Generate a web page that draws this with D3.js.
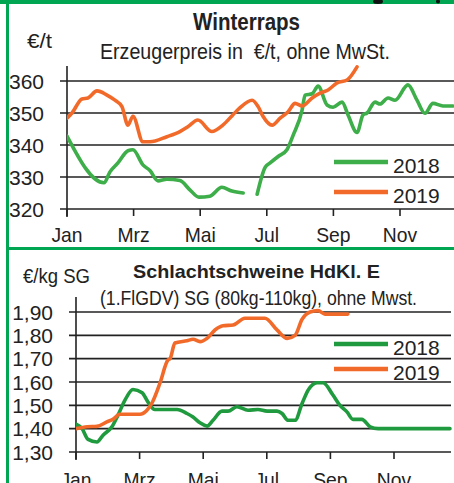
<!DOCTYPE html>
<html><head><meta charset="utf-8">
<script src="https://cdn.jsdelivr.net/npm/d3@7"></script>
<style>
body{margin:0;background:#fff;}
svg{display:block;}
text{font-family:"Liberation Sans",Arial,sans-serif;fill:#222;}
</style></head><body>
<svg id="c" width="454" height="483"></svg>
<script>
// ---------- data ----------
const monthLabels = ["Jan","Mrz","Mai","Jul","Sep","Nov"];
const monthTicks = [0,2,4,6,8,10];

// Winterraps (€/t); t = months since 1 Jan
const raps2018a_t = [0,1.11,1.29,1.53,1.83,1.98,2.28,2.49,2.73,3.0,3.39,3.69,3.96,4.29,4.65,4.95,5.29];
const raps2018a_v = [342.8,328.2,331.6,334.4,338.2,338.5,333.8,332,328.8,329.3,328.9,326,323.7,324,326.8,325.6,325];
const raps2018b_t = [5.71,5.95,6.1,6.34,6.61,6.79,7.06,7.15,7.36,7.54,7.81,7.99,8.26,8.44,8.71,8.89,9.01,9.25,9.4,9.64,9.85,10.24,10.51,10.75,10.99,11.29,11.59];
const raps2018b_v = [324.6,333,334.4,336.4,338.6,343,350.9,355.6,356,358.4,352.5,351.8,353.4,349.4,343.9,349.4,350,353.4,352.8,354.7,354,358.8,354,349.9,353,352.2,352.2];
const raps2019_t = [0,0.15,0.45,0.63,0.9,1.2,1.44,1.65,1.83,1.98,2.28,2.49,3.0,3.39,3.63,3.93,4.35,4.68,4.98,5.19,5.56,5.74,5.89,6.16,6.4,6.64,6.85,7.06,7.36,7.6,7.84,8.11,8.41,8.71];
const raps2019_v = [348.4,350,354.4,354.7,356.9,355.6,354,352,346.2,349,341,341,342.6,344.2,345.7,347.8,344.2,346.2,349.4,351.6,354,352,348.9,346.2,348.4,350.4,353,352.2,354.7,356.2,357.2,359.4,360.3,364.4];
const rapsYTicks = [320,330,340,350,360];

// Schlachtschweine (€/kg SG)
const pig2018_t = [0,0.19,0.38,0.66,0.85,1.13,1.32,1.54,1.79,2.08,2.26,2.48,3.18,3.49,3.68,3.9,4.12,4.31,4.59,4.78,5.06,5.41,5.72,6.01,6.32,6.48,6.67,6.89,7.11,7.3,7.58,7.77,8.08,8.3,8.52,8.71,8.99,9.25,9.5,11.76];
const pig2018_v = [1.419,1.40,1.354,1.343,1.372,1.408,1.458,1.522,1.568,1.554,1.515,1.482,1.482,1.465,1.45,1.425,1.411,1.436,1.475,1.475,1.494,1.479,1.482,1.475,1.475,1.465,1.436,1.436,1.508,1.565,1.597,1.597,1.544,1.50,1.472,1.44,1.44,1.408,1.40,1.40];
const pig2019_t = [0,0.35,0.66,0.97,1.16,1.38,2.01,2.23,2.39,2.64,2.89,2.96,3.11,3.49,3.68,3.9,4.12,4.37,4.62,4.94,5.31,5.94,6.32,6.64,6.89,7.11,7.36,7.61,7.83,8.55];
const pig2019_v = [1.40,1.408,1.41,1.429,1.44,1.462,1.462,1.479,1.51,1.595,1.694,1.70,1.767,1.777,1.783,1.773,1.787,1.823,1.841,1.844,1.873,1.873,1.823,1.787,1.80,1.869,1.90,1.906,1.891,1.891];
const pigYTicks = [1.3,1.4,1.5,1.6,1.7,1.8,1.9];

const seriesNames = ["2018","2019"];

// ---------- drawing ----------
const svg = d3.select("#c");
const BORDER = "#00a651";
const ORANGE = "#f26a2a";
const GREEN_TOP = "#3dae49";
const GREEN_BOT = "#1f9a3e";
const GRID = "#222";

// squeeze text horizontally by factor k (condensed look)
function squeeze(sel, k){
  sel.each(function(){
    const w = this.getComputedTextLength();
    d3.select(this).attr("textLength", w*k).attr("lengthAdjust","spacingAndGlyphs");
  });
  return sel;
}
function fitW(sel, w){
  return sel.attr("textLength", w).attr("lengthAdjust","spacingAndGlyphs");
}

// frame
svg.append("rect").attr("x",0).attr("y",0).attr("width",454).attr("height",4).attr("fill",BORDER);
svg.append("rect").attr("x",6).attr("y",0).attr("width",3).attr("height",483).attr("fill",BORDER);
svg.append("rect").attr("x",6).attr("y",247).attr("width",448).attr("height",3).attr("fill",BORDER);
svg.append("ellipse").attr("cx",378).attr("cy",1.5).attr("rx",5).attr("ry",2.5).attr("fill","#111");
svg.append("ellipse").attr("cx",438).attr("cy",1.5).attr("rx",2).attr("ry",2).attr("fill","#111");

const zip = (t,v) => t.map((d,i)=>[d,v[i]]);

function panel(cfg){
  const g = svg.append("g");
  const x = d3.scaleLinear().domain([0,12]).range([cfg.x0, cfg.x0 + 12*cfg.mw]);
  const y = d3.scaleLinear().domain(cfg.yDomain).range([cfg.yBottom, cfg.yTop]);
  // gridlines
  g.selectAll(".grid").data(cfg.yTicks).join("line")
    .attr("x1",cfg.x0-7).attr("x2",cfg.gridRight)
    .attr("y1",d=>y(d)).attr("y2",d=>y(d))
    .attr("stroke",GRID).attr("stroke-width",1.6);
  // y axis line
  g.append("line").attr("x1",cfg.x0).attr("x2",cfg.x0)
    .attr("y1",cfg.yTop-15).attr("y2",cfg.yBottom+8)
    .attr("stroke",GRID).attr("stroke-width",1.6);
  // x ticks
  g.selectAll(".xt").data(monthTicks).join("line")
    .attr("x1",d=>x(d)).attr("x2",d=>x(d))
    .attr("y1",cfg.yBottom).attr("y2",cfg.yBottom+7)
    .attr("stroke",GRID).attr("stroke-width",1.6);
  squeeze(g.selectAll(".xl").data(monthTicks).join("text")
    .attr("x",d=>x(d)).attr("y",cfg.yBottom+cfg.xLabOff)
    .attr("text-anchor","middle").attr("font-size",cfg.fs)
    .text((d,i)=>monthLabels[i]), 0.92);
  // y labels
  g.selectAll(".yl").data(cfg.yTicks).join("text")
    .attr("x",cfg.yLabX).attr("y",d=>y(d)+7.5)
    .attr("text-anchor","end").attr("font-size",cfg.fs)
    .text(d=>cfg.yFmt(d));
  // titles
  fitW(g.append("text").attr("x",cfg.titleX).attr("y",cfg.titleY)
    .attr("font-size",cfg.titleFs).attr("font-weight","bold").text(cfg.title), cfg.titleW);
  fitW(g.append("text").attr("x",cfg.subX).attr("y",cfg.subY)
    .attr("font-size",cfg.subFs).attr("xml:space","preserve").text(cfg.sub), cfg.subW);
  fitW(g.append("text").attr("x",cfg.unitX).attr("y",cfg.unitY)
    .attr("font-size",cfg.fs).text(cfg.unit), cfg.unitW);
  // lines
  const line = d3.line().x(d=>x(d[0])).y(d=>y(d[1])).curve(d3.curveMonotoneX);
  const clip = "clip"+cfg.id;
  svg.append("clipPath").attr("id",clip).append("rect")
    .attr("x",cfg.x0).attr("y",cfg.yTop-30).attr("width",cfg.gridRight-cfg.x0+1).attr("height",cfg.yBottom-cfg.yTop+40);
  const lg = g.append("g").attr("clip-path",`url(#${clip})`);
  cfg.series.forEach(s=>{
    lg.append("path").datum(s.data).attr("d",line)
      .attr("fill","none").attr("stroke",s.color).attr("stroke-width",3.6)
      .attr("stroke-linejoin","round").attr("stroke-linecap","round");
  });
  // legend
  cfg.legend.forEach((l,i)=>{
    g.append("line").attr("x1",334).attr("x2",388).attr("y1",l.y).attr("y2",l.y)
      .attr("stroke",l.color).attr("stroke-width",4.5);
    g.append("text").attr("x",393).attr("y",l.y+11).attr("font-size",cfg.fs).text(seriesNames[i]);
  });
}

panel({
  id:"a", x0:67, mw:33.3, yDomain:[320,360], yTop:81, yBottom:209, yTicks:rapsYTicks,
  gridRight:454, yLabX:44, fs:21, xLabOff:33, yFmt:d=>d,
  title:"Winterraps", titleX:193, titleY:30, titleFs:23, titleW:107,
  sub:"Erzeugerpreis in  €/t, ohne MwSt.", subX:100, subY:59, subFs:22, subW:290,
  unit:"€/t", unitX:27, unitY:48, unitW:25,
  series:[
    {data:zip(raps2018a_t,raps2018a_v), color:GREEN_TOP},
    {data:zip(raps2018b_t,raps2018b_v), color:GREEN_TOP},
    {data:zip(raps2019_t,raps2019_v), color:ORANGE}
  ],
  legend:[{y:162,color:GREEN_TOP},{y:192,color:ORANGE}]
});

panel({
  id:"b", x0:76, mw:31.8, yDomain:[1.3,1.9], yTop:312, yBottom:452, yTicks:pigYTicks,
  gridRight:451, yLabX:53, fs:21, xLabOff:35, yFmt:d=>d3.format(".2f")(d).replace(".",","),
  title:"Schlachtschweine HdKl. E", titleX:133, titleY:278, titleFs:19, titleW:247,
  sub:"(1.FlGDV) SG (80kg-110kg), ohne Mwst.", subX:100, subY:305, subFs:20, subW:317,
  unit:"€/kg SG", unitX:23, unitY:283, unitW:67,
  series:[
    {data:zip(pig2018_t,pig2018_v), color:GREEN_BOT},
    {data:zip(pig2019_t,pig2019_v), color:ORANGE}
  ],
  legend:[{y:344,color:GREEN_BOT},{y:369,color:ORANGE}]
});
</script>
</body></html>
